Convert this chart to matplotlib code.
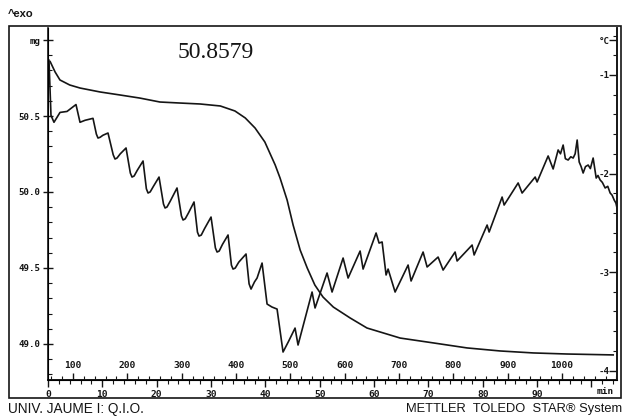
import matplotlib
matplotlib.use("Agg")
import matplotlib.pyplot as plt
from matplotlib.patches import Rectangle
from matplotlib.ticker import FixedLocator, FixedFormatter, MultipleLocator

# ---- TGA: sample mass (mg) against time (min) ----
tga_time = [0.4, 1.3, 2.2, 4.0, 5.9, 9.6, 13.3, 16.9, 20.6, 23.9, 28.0, 31.7,
            34.4, 36.3, 38.1, 39.9, 41.8, 42.7, 44.0, 45.1, 46.4, 47.7, 49.1,
            50.6, 52.5, 55.6, 58.7, 64.8, 70.9, 77.1, 83.2, 89.3, 95.5, 104.0]
tga_mass = [50.858, 50.79, 50.737, 50.704, 50.684, 50.658, 50.638, 50.618,
            50.592, 50.586, 50.579, 50.566, 50.533, 50.487, 50.421, 50.329,
            50.178, 50.092, 49.947, 49.783, 49.618, 49.50, 49.388, 49.309,
            49.243, 49.171, 49.105, 49.039, 49.007, 48.974, 48.954, 48.941,
            48.934, 48.928]

# ---- SDTA signal (degC) against time (min) ----
dsc_time = [0.18, 0.55, 1.10, 2.21, 3.50, 5.15, 5.89, 6.81, 8.28, 8.9, 9.20,
            9.6, 10.1, 11.04, 12.0, 12.33, 12.7, 13.3, 14.36, 15.15, 15.46,
            15.85, 16.4, 17.49, 18.1, 18.41, 18.8, 19.4, 20.43, 21.25, 21.54,
            21.9, 22.5, 23.74, 24.55, 24.85, 25.25, 25.85, 26.87, 27.5, 27.79,
            28.2, 28.8, 30.00, 30.8, 31.11, 31.5, 32.1, 33.13, 33.75, 34.05,
            34.45, 35.1, 36.44, 37.0, 37.36, 38.0, 38.47, 39.39, 40.31, 41.2,
            42.15, 43.25, 44.3, 45.46, 46.01, 48.59, 49.14, 51.35, 52.27,
            54.30, 55.22, 57.43, 57.98, 60.37, 60.92, 61.48, 62.21, 62.58,
            63.87, 66.26, 66.81, 69.02, 69.76, 71.78, 72.70, 74.91, 75.28,
            78.04, 78.41, 80.80, 81.17, 83.56, 83.93, 86.51, 87.24, 89.64,
            90.00, 92.03, 92.95, 93.87, 94.3, 94.79, 95.2, 95.71, 96.2, 96.63,
            97.0, 97.37, 97.74, 98.1, 98.47, 98.9, 99.39, 99.8, 100.31, 100.87,
            101.2, 101.60, 102.0, 102.52, 103.0, 103.44, 103.8, 104.18, 104.5,
            104.7]
dsc_signal = [-0.85, -1.41, -1.48, -1.38, -1.37, -1.30, -1.48, -1.46, -1.44,
              -1.60, -1.64, -1.632, -1.612, -1.589, -1.81, -1.853, -1.843,
              -1.80, -1.741, -1.995, -2.036, -2.025, -1.97, -1.873, -2.155,
              -2.198, -2.187, -2.13, -2.036, -2.31, -2.350, -2.34, -2.28,
              -2.147, -2.43, -2.472, -2.46, -2.40, -2.289, -2.595, -2.635,
              -2.625, -2.56, -2.442, -2.755, -2.797, -2.787, -2.72, -2.624,
              -2.93, -2.970, -2.96, -2.90, -2.817, -3.12, -3.173, -3.10,
              -3.061, -2.909, -3.325, -3.355, -3.376, -3.812, -3.70, -3.569,
              -3.741, -3.203, -3.365, -3.010, -3.203, -2.858, -3.061, -2.787,
              -2.970, -2.604, -2.706, -2.695, -3.030, -2.970, -3.203, -2.929,
              -3.091, -2.797, -2.949, -2.848, -2.980, -2.797, -2.888, -2.726,
              -2.827, -2.523, -2.594, -2.239, -2.320, -2.096, -2.198, -2.036,
              -2.086, -1.822, -1.954, -1.761, -1.80, -1.711, -1.85, -1.863,
              -1.83, -1.843, -1.80, -1.660, -1.883, -1.93, -1.995, -1.93,
              -1.914, -1.95, -1.843, -2.046, -2.02, -2.066, -2.09, -2.147,
              -2.13, -2.198, -2.22, -2.269, -2.30, -2.35]

# ---- axis ticks ----
mass_ticks = [49.0, 49.5, 50.0, 50.5, 51.0]
mass_labels = ["49.0", "49.5", "50.0", "50.5", "mg"]
signal_ticks = [-4, -3, -2, -1, -0.645]
signal_labels = ["-4", "-3", "-2", "-1", "°C"]
time_ticks = [0, 10, 20, 30, 40, 50, 60, 70, 80, 90, 100]
time_labels = ["0", "10", "20", "30", "40", "50", "60", "70", "80", "90", ""]
temp_ticks = [100, 200, 300, 400, 500, 600, 700, 800, 900, 1000]
initial_mass_label = "50.8579"

# heating programme: temperature (degC) reached at a given time (min)
T_START, RATE = 54.0, 10.0

W, H = 624, 418
INK = "#151515"
MONO = "DejaVu Sans Mono"

fig = plt.figure(figsize=(W / 100, H / 100), dpi=100)
fig.patch.set_facecolor("white")


def fx(px):
    return px / W


def fy(py):
    return 1 - py / H


# outer instrument frame
fig.add_artist(Rectangle((fx(9), fy(398)), fx(621) - fx(9), fy(26) - fy(398),
                         transform=fig.transFigure, fill=False,
                         edgecolor=INK, lw=1.2))

ax = fig.add_axes([fx(48), fy(380), fx(617) - fx(48), fy(28) - fy(380)])
ax.set_facecolor("none")
ax.set_xlim(0, 104.7)
ax.set_ylim(48.763, 51.079)
ax.spines["top"].set_visible(False)
for s in ("left", "bottom", "right"):
    ax.spines[s].set_color(INK)
    ax.spines[s].set_linewidth(1.2)

# mass axis
ax.yaxis.set_major_locator(FixedLocator(mass_ticks))
ax.yaxis.set_major_formatter(FixedFormatter(mass_labels))
ax.yaxis.set_minor_locator(MultipleLocator(0.1))
ax.tick_params(axis="y", which="major", direction="inout", length=7,
               width=1, colors=INK, labelsize=6.6, pad=2)
ax.tick_params(axis="y", which="minor", direction="in", length=3,
               width=0.8, colors=INK)

# time axis
ax.xaxis.set_major_locator(FixedLocator(time_ticks))
ax.xaxis.set_major_formatter(FixedFormatter(time_labels))
ax.xaxis.set_minor_locator(MultipleLocator(2))
ax.tick_params(axis="x", which="major", direction="out", length=5,
               width=1, colors=INK, labelsize=6.8, pad=2)
ax.tick_params(axis="x", which="minor", direction="out", length=3,
               width=0.8, colors=INK)

for lab in ax.get_xticklabels() + ax.get_yticklabels():
    lab.set_family(MONO)
    lab.set_weight("bold")

# temperature scale sharing the time axis line
sec = ax.secondary_xaxis(0, functions=(lambda t: T_START + RATE * t,
                                       lambda T: (T - T_START) / RATE))
sec.set_alignment("top")
sec.xaxis.set_major_locator(FixedLocator(temp_ticks))
sec.xaxis.set_minor_locator(MultipleLocator(20))
sec.tick_params(axis="x", which="major", direction="out", length=5,
                width=1, colors=INK, labelsize=6.8, pad=2)
sec.tick_params(axis="x", which="minor", direction="out", length=3,
                width=0.8, colors=INK)
sec.spines["top"].set_color(INK)
sec.spines["top"].set_linewidth(1.2)
for lab in sec.get_xticklabels():
    lab.set_family(MONO)
    lab.set_weight("bold")

# signal axis on the right
ax2 = ax.twinx()
ax2.set_ylim(-4.096, -0.523)
ax2.spines["top"].set_visible(False)
ax2.spines["right"].set_color(INK)
ax2.spines["right"].set_linewidth(1.2)
ax2.yaxis.set_major_locator(FixedLocator(signal_ticks))
ax2.yaxis.set_major_formatter(FixedFormatter(signal_labels))
ax2.yaxis.set_minor_locator(MultipleLocator(0.2))
ax2.tick_params(axis="y", which="major", direction="in", length=6,
                width=1, colors=INK, labelsize=6.6, pad=-5)
ax2.tick_params(axis="y", which="minor", direction="in", length=3,
                width=0.8, colors=INK)
for lab in ax2.get_yticklabels():
    lab.set_family(MONO)
    lab.set_weight("bold")
    lab.set_horizontalalignment("right")

# curves
ax.plot(tga_time, tga_mass, color=INK, lw=1.2, solid_joinstyle="round")
ax2.plot(dsc_time, dsc_signal, color=INK, lw=1.2, solid_joinstyle="round")

# annotations
fig.text(fx(216), fy(52), initial_mass_label, family="Liberation Serif",
         size=17, color=INK, ha="center", va="center")
fig.text(fx(605), fy(392), "min", family=MONO, weight="bold", size=6.8,
         color=INK, ha="center", va="center")
fig.text(fx(8), fy(14), "^exo", family="Liberation Sans", weight="bold",
         size=8, color=INK, ha="left", va="center")
fig.text(fx(8), fy(409), "UNIV. JAUME I: Q.I.O.", family="Liberation Sans",
         size=9.8, color=INK, ha="left", va="center")
fig.text(fx(622), fy(409), "METTLER  TOLEDO  STAR® System",
         family="Liberation Sans", size=9.3, color=INK, ha="right",
         va="center")

fig.savefig("out.png", dpi=100, facecolor="white")
